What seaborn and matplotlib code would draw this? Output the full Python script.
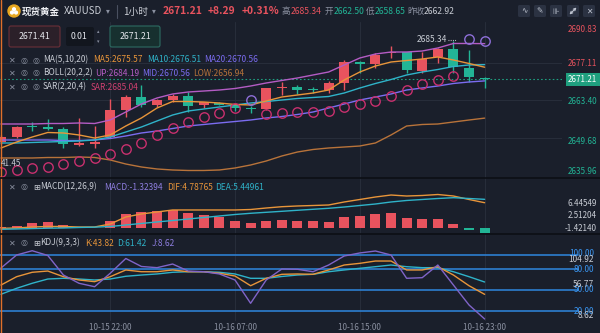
import matplotlib
matplotlib.use("Agg")
import matplotlib.pyplot as plt
import seaborn as sns
from matplotlib.patches import FancyBboxPatch, Circle

# ---------------- data ----------------
idx = list(range(32))
opens  = [2648.3, 2650.1, 2654.0, 2653.6, 2652.9, 2647.1, 2647.5, 2650.1, 2659.9, 2664.8,
          2661.7, 2663.6, 2665.0, 2661.7, 2662.6, 2661.7, 2660.6, 2660.2, 2667.8, 2668.5,
          2667.4, 2667.2, 2669.7, 2677.6, 2676.6, 2680.8, 2681.0, 2674.3, 2679.2, 2682.1,
          2675.2, 2671.8]
highs  = [2650.6, 2654.2, 2655.6, 2656.5, 2653.8, 2656.9, 2654.0, 2663.8, 2665.4, 2669.1,
          2664.0, 2665.8, 2666.6, 2663.0, 2662.9, 2662.0, 2661.2, 2668.0, 2670.3, 2669.1,
          2668.5, 2670.5, 2678.2, 2677.9, 2680.7, 2683.3, 2681.2, 2681.2, 2682.5, 2685.34,
          2681.9, 2672.1]
lows   = [2647.6, 2649.8, 2652.2, 2652.6, 2645.9, 2646.7, 2645.9, 2649.7, 2657.5, 2661.0,
          2660.9, 2663.0, 2659.3, 2660.6, 2661.6, 2659.5, 2658.7, 2659.8, 2665.4, 2665.8,
          2666.0, 2666.2, 2667.2, 2673.3, 2675.2, 2678.8, 2673.3, 2673.3, 2677.0, 2673.3,
          2670.3, 2667.8]
closes = [2650.1, 2653.8, 2653.6, 2652.9, 2647.5, 2648.0, 2648.3, 2659.9, 2664.8, 2661.7,
          2663.6, 2665.0, 2661.4, 2662.9, 2661.9, 2660.5, 2660.4, 2667.8, 2668.0, 2667.2,
          2667.1, 2669.7, 2677.6, 2676.7, 2680.0, 2681.2, 2674.5, 2678.5, 2682.1, 2675.7,
          2672.1, 2671.21]

ma5  = [2646.01, 2648.20, 2650.03, 2651.68, 2651.50, 2650.77, 2649.67, 2650.77, 2654.06, 2656.99,
        2660.64, 2663.02, 2663.02, 2662.84, 2662.47, 2661.93, 2661.74, 2663.21, 2664.67, 2665.40,
        2666.13, 2667.23, 2670.89, 2673.82, 2676.01, 2677.48, 2678.02, 2678.57, 2679.31, 2678.21,
        2676.93, 2675.57]
ma10 = [2647.84, 2647.84, 2648.02, 2648.20, 2648.39, 2648.57, 2648.94, 2650.03, 2651.86, 2653.69,
        2655.89, 2658.08, 2659.55, 2660.28, 2661.01, 2661.74, 2662.47, 2663.02, 2663.57, 2664.12,
        2664.49, 2664.85, 2666.13, 2667.96, 2669.61, 2671.07, 2672.72, 2673.82, 2674.73, 2675.83,
        2676.38, 2676.51]
boll_up  = [2654.79, 2654.79, 2654.79, 2654.97, 2654.97, 2655.16, 2654.97, 2656.25, 2659.18, 2662.11,
            2664.30, 2665.77, 2666.50, 2666.86, 2667.23, 2667.78, 2668.69, 2669.79, 2670.71, 2671.62,
            2672.72, 2673.82, 2676.38, 2678.94, 2680.40, 2681.13, 2681.13, 2681.50, 2682.60, 2684.25,
            2684.25, 2684.19]
boll_mid = [2648.94, 2648.94, 2648.94, 2648.94, 2648.75, 2648.75, 2648.94, 2649.48, 2650.40, 2651.50,
            2652.23, 2653.14, 2654.06, 2654.61, 2655.16, 2655.70, 2656.25, 2656.99, 2657.53, 2658.27,
            2659.18, 2660.64, 2662.11, 2663.57, 2664.67, 2665.77, 2667.23, 2667.96, 2668.69, 2669.61,
            2670.16, 2670.56]
boll_low = [2642.35, 2642.35, 2642.35, 2642.53, 2642.53, 2642.72, 2642.53, 2641.62, 2640.15, 2639.06,
            2638.33, 2637.96, 2637.78, 2637.78, 2637.96, 2638.69, 2639.79, 2641.25, 2643.08, 2644.54,
            2645.46, 2646.01, 2646.37, 2646.74, 2647.84, 2650.77, 2654.06, 2654.61, 2654.79, 2655.52,
            2656.25, 2656.94]
sar      = [2637.34, 2637.96, 2638.58, 2639.17, 2640.15, 2641.25, 2642.24, 2643.81, 2645.53, 2647.95,
            2650.77, 2653.44, 2655.63, 2657.46, 2658.92, 2660.53, 2663.39, 2658.27, 2658.71, 2659.00,
            2659.29, 2659.66, 2660.90, 2662.11, 2663.21, 2665.04, 2667.05, 2669.43, 2670.89, 2672.35,
            2686.07, 2685.04]
sar_above = [False]*16 + [True] + [False]*13 + [True, True]

macd = [0.20, 0.40, 1.00, 1.23, 0.63, 0.10, -0.15, 1.56, 3.19, 3.58,
        3.88, 4.12, 3.35, 2.95, 2.42, 1.56, 1.02, 1.56, 1.79, 1.63,
        1.45, 1.40, 2.42, 2.72, 3.12, 3.35, 2.25, 1.95, 1.95, 0.95,
        -0.53, -1.32394]
dif = [-0.14, -0.07, 0.16, 0.28, 0.28, 0.16, 0.16, 0.86, 2.49, 3.19,
       3.65, 4.12, 4.12, 4.12, 4.12, 4.12, 4.23, 4.58, 4.88, 5.05,
       5.16, 5.28, 5.98, 6.56, 7.14, 7.60, 7.37, 7.49, 7.72, 7.37,
       6.56, 5.81]
dea = [-0.37, -0.30, -0.21, -0.12, -0.07, 0.05, 0.12, 0.28, 0.63, 0.98,
       1.33, 1.67, 2.02, 2.37, 2.72, 3.07, 3.35, 3.58, 3.81, 4.05,
       4.28, 4.51, 4.81, 5.16, 5.51, 5.98, 6.33, 6.56, 6.79, 6.98,
       6.79, 6.60]

kdj_k = [57.1, 69.0, 75.3, 77.1, 69.0, 64.3, 61.9, 69.0, 78.6, 76.1,
         76.1, 78.6, 76.1, 76.1, 73.9, 70.0, 56.1, 66.7, 72.4, 72.9,
         72.4, 78.6, 85.7, 88.1, 91.4, 91.4, 78.6, 78.6, 83.3, 71.4,
         56.1, 43.82]
kdj_d = [43.9, 52.4, 59.6, 65.7, 66.7, 65.7, 64.3, 65.7, 69.6, 71.4,
         72.9, 75.3, 76.1, 76.1, 75.3, 72.9, 66.7, 66.7, 69.3, 71.4,
         72.4, 76.1, 78.6, 81.0, 83.3, 85.7, 83.3, 81.9, 81.9, 76.1,
         69.0, 61.42]
kdj_j = [81.4, 100.0, 106.1, 99.3, 71.4, 59.6, 54.7, 73.9, 95.0, 83.6,
         81.9, 87.1, 77.1, 76.1, 72.9, 64.3, 31.0, 64.3, 80.0, 79.6,
         76.1, 85.7, 98.6, 102.9, 105.7, 100.0, 66.7, 67.6, 85.7, 57.1,
         28.6, 8.62]

time_ticks = [7, 15, 23, 31]
time_labels = ["10-15 22:00", "10-16 07:00", "10-16 15:00", "10-16 23:00"]
price_ticks = [2690.83, 2677.11, 2663.40, 2649.68, 2635.96]
last_price = 2671.21
macd_labels = ["6.44549", "2.51204", "-1.42140"]
kdj_levels = [100, 80, 50, 20]
kdj_range_labels = ["104.92", "56.77", "8.62"]

# ---------------- style ----------------
BG = "#1a1f2b"
RED = "#e8535e"
GREEN = "#22b596"
C_MA5 = "#e8953a"
C_MA10 = "#2fb3c9"
C_MID = "#7b6cf0"
C_UP = "#b45cc4"
C_LOW = "#b8733a"
C_SAR_B = "#c8306e"
C_SAR_A = "#8e6fd8"
C_J = "#8064c8"
GRID = "#272d3a"
TXT = "#c8ccd4"
DIM = "#8a90a0"
BLUE = "#2d7fd0"
BLUE_T = "#3a95f0"

sns.set_style("dark", rc={"axes.facecolor": BG, "figure.facecolor": BG})
plt.rcParams["font.family"] = ["Noto Sans CJK SC", "DejaVu Sans"]

W, H = 600, 333
fig = plt.figure(figsize=(6, 3.33), dpi=100, facecolor=BG)


def rect(x0, y0, x1, y1):
    return [x0 / W, 1 - y1 / H, (x1 - x0) / W, (y1 - y0) / H]


ax_m = fig.add_axes(rect(0, 22, 562, 178))
ax_d = fig.add_axes(rect(0, 178, 562, 234))
ax_k = fig.add_axes(rect(0, 234, 562, 321))
XL = (-0.064, 35.96)
for ax in (ax_m, ax_d, ax_k):
    ax.set_facecolor("none")
    ax.set_xlim(*XL)
    for s in ax.spines.values():
        s.set_visible(False)
    ax.set_yticks([])
    ax.grid(False)
    for t in time_ticks:
        ax.axvline(t, color=GRID, lw=0.8, zorder=0)

# ---------------- main panel ----------------
ax_m.set_ylim(2635.03, 2692.11)
for p in price_ticks[1:4]:
    ax_m.axhline(p, color=GRID, lw=0.8, zorder=0)
ax_m.axhline(last_price, color="#1f9e80", lw=0.8, ls=(0, (1.5, 2)), zorder=1)

cols = [RED if c >= o else GREEN for o, c in zip(opens, closes)]
bottoms = [min(o, c) for o, c in zip(opens, closes)]
heights = [max(abs(c - o), 0.35) for o, c in zip(opens, closes)]
ax_m.vlines(idx, lows, highs, colors=cols, lw=1.0, zorder=2)
ax_m.bar(idx, heights, bottom=bottoms, width=0.64, color=cols, lw=0, zorder=2)

for vals, c in [(boll_low, C_LOW), (boll_up, C_UP), (boll_mid, C_MID), (ma10, C_MA10), (ma5, C_MA5)]:
    sns.lineplot(x=idx, y=vals, ax=ax_m, color=c, lw=1.0, zorder=3)

xb = [i for i, a in zip(idx, sar_above) if not a]
yb = [v for v, a in zip(sar, sar_above) if not a]
xa = [i for i, a in zip(idx, sar_above) if a]
ya = [v for v, a in zip(sar, sar_above) if a]
ax_m.plot(xb, yb, ls="", marker="o", ms=6.8, mfc="none", mec=C_SAR_B, mew=1.0, zorder=4)
ax_m.plot(xa, ya, ls="", marker="o", ms=6.8, mfc="none", mec=C_SAR_A, mew=1.0, zorder=4)
ax_m.set_xticks([])
ax_m.set_xlabel("")
ax_m.set_ylabel("")

# ---------------- MACD panel ----------------
ax_d.set_ylim(-1.47, 11.56)
mcols = [RED if v >= 0 else GREEN for v in macd]
ax_d.bar(idx, macd, width=0.64, color=mcols, lw=0, zorder=2)
sns.lineplot(x=idx, y=dif, ax=ax_d, color=C_MA5, lw=1.0, zorder=3)
sns.lineplot(x=idx, y=dea, ax=ax_d, color=C_MA10, lw=1.0, zorder=3)
ax_d.set_xticks([])
ax_d.set_xlabel("")
ax_d.set_ylabel("")

# ---------------- KDJ panel ----------------
ax_k.set_ylim(5.71, 130)
for lv in kdj_levels:
    ax_k.axhline(lv, xmin=0, xmax=578 / 562, color=BLUE, lw=1.2, zorder=1, clip_on=False)
sns.lineplot(x=idx, y=kdj_d, ax=ax_k, color=C_MA10, lw=1.0, zorder=3)
sns.lineplot(x=idx, y=kdj_k, ax=ax_k, color=C_MA5, lw=1.0, zorder=3)
sns.lineplot(x=idx, y=kdj_j, ax=ax_k, color=C_J, lw=1.0, zorder=3)
ax_k.set_xticks(time_ticks)
ax_k.set_xticklabels(time_labels, fontsize=5.8, color=DIM)
ax_k.tick_params(axis="x", length=0, pad=1.5)
ax_k.set_xlabel("")
ax_k.set_ylabel("")

# ---------------- overlay (texts, decorations) ----------------
ov = fig.add_axes([0, 0, 1, 1])
ov.set_xlim(0, W)
ov.set_ylim(H, 0)
ov.axis("off")
ov.patch.set_alpha(0)


def T(x, y, s, c=TXT, fs=6.0, ha="left", w="normal", **kw):
    ov.text(x, y, s, color=c, fontsize=fs, ha=ha, va="center", fontweight=w, **kw)


# left orange border and panel separators
ov.plot([0.6, 0.6], [0, H], color="#e0702a", lw=1.0)
ov.plot([0, W], [178, 178], color="#0c0f15", lw=1.2)
ov.plot([0, W], [234, 234], color="#0c0f15", lw=1.2)

# header row
ov.add_patch(Circle((14, 11), 6, color="#e8a820"))
for dx, dy in [(-2, 1.5), (2, 1.5), (0, -1.8)]:
    ov.add_patch(Circle((14 + dx, 11 + dy), 1.4, color="white"))
T(22, 11.5, "现货黄金", c="#eef0f4", fs=6.8, w="bold")
T(64, 11.5, "XAUUSD", c=TXT, fs=7.0)
T(106, 11.5, "▾", c=DIM, fs=5.5)
ov.plot([117, 117], [5, 18], color="#4a5060", lw=0.8)
T(123, 11.5, "1小时", c=TXT, fs=7.0)
T(152, 11.5, "▾", c=DIM, fs=5.5)
T(163, 11.5, "2671.21", c=RED, fs=7.4, w="bold")
T(208, 11.5, "+8.29", c=RED, fs=7.4, w="bold")
T(242, 11.5, "+0.31%", c=RED, fs=7.4, w="bold")
T(281, 11.5, "高", c=DIM, fs=6.2)
T(291, 11.5, "2685.34", c=RED, fs=6.2)
T(325, 11.5, "开", c=DIM, fs=6.2)
T(334, 11.5, "2662.50", c=GREEN, fs=6.2)
T(366, 11.5, "低", c=DIM, fs=6.2)
T(375, 11.5, "2658.65", c=GREEN, fs=6.2)
T(407, 11.5, "昨收", c=DIM, fs=6.2)
T(424, 11.5, "2662.92", c=TXT, fs=6.2)
btn_x = [518, 534, 550, 567, 583]
btn_g = ["∿", "✎", "⊪", None, "✕"]
for bx, g in zip(btn_x, btn_g):
    ov.add_patch(FancyBboxPatch((bx, 5), 12, 12, boxstyle="round,pad=0,rounding_size=1.5",
                                fc="#2b3242", ec="none"))
    if g is not None:
        T(bx + 6, 11, g, c="#c0c6d2", fs=5.5, ha="center", family=["DejaVu Sans"])
    else:
        # expand icon (diagonal double arrow) drawn as a shape
        ov.annotate("", xy=(bx + 9.5, 7.5), xytext=(bx + 2.5, 14.5),
                    arrowprops=dict(arrowstyle="<->", color="#c0c6d2", lw=0.8,
                                    mutation_scale=4, shrinkA=0, shrinkB=0))

# order boxes
ov.add_patch(FancyBboxPatch((9, 26), 51, 21, boxstyle="round,pad=0,rounding_size=2",
                            fc="#2b2029", ec="#6a3038", lw=0.8))
T(34.5, 36.5, "2671.41", c="#e6e8ee", fs=6.3, ha="center")
ov.add_patch(FancyBboxPatch((66, 27), 28, 19, boxstyle="round,pad=0,rounding_size=2",
                            fc="#12161e", ec="none"))
T(79, 36.5, "0.01", c="#e6e8ee", fs=6.3, ha="center")
T(98.5, 31.5, "▴", c=DIM, fs=3.5, ha="center", family=["DejaVu Sans"])
T(98.5, 41.5, "▾", c=DIM, fs=3.5, ha="center", family=["DejaVu Sans"])
ov.add_patch(FancyBboxPatch((110, 26), 50, 21, boxstyle="round,pad=0,rounding_size=2",
                            fc="#17302f", ec="#2d6b62", lw=0.8))
T(135, 36.5, "2671.21", c="#e6e8ee", fs=6.3, ha="center")


# indicator legends
def ind_row(y, name, items, box=False):
    T(9, y, "✕", c=DIM, fs=5.8, family=["DejaVu Sans"])
    T(20.5, y, "◎", c=DIM, fs=5.8, family=["DejaVu Sans"])
    if box:
        T(33, y, "⊞", c=TXT, fs=6.0, family=["DejaVu Sans"])
        T(40, y, name, c=TXT, fs=6.0)
    else:
        T(32.5, y, "◎", c=DIM, fs=5.8, family=["DejaVu Sans"])
        T(43, y, name, c=TXT, fs=6.0)
    for x, s, c in items:
        T(x, y, s, c=c, fs=6.0)


ind_row(60, "MA(5,10,20)", [(93, "MA5:2675.57", C_MA5), (147, "MA10:2676.51", C_MA10),
                             (204, "MA20:2670.56", C_MID)])
ind_row(73, "BOLL(20,2,2)", [(95, "UP:2684.19", C_UP), (142, "MID:2670.56", C_MID),
                              (193, "LOW:2656.94", C_LOW)])
ind_row(87, "SAR(2,20,4)", [(91, "SAR:2685.04", "#d04070")])
ind_row(187, "MACD(12,26,9)", [(104, "MACD:-1.32394", "#8e7ee0"), (167, "DIF:4.78765", C_MA5),
                                (215, "DEA:5.44961", C_MA10)], box=True)
ind_row(243, "KDJ(9,3,3)", [(85, "K:43.82", C_MA5), (117, "D:61.42", C_MA10),
                             (152, "J:8.62", "#8e7ee0")], box=True)

# main price labels
for p, y in zip(price_ticks, [30, 63.5, 102, 141.5, 171]):
    T(597, y, f"{p:.2f}", c=RED if p > last_price else GREEN, fs=5.8, ha="right")
ov.add_patch(FancyBboxPatch((566, 72.5), 34, 13, boxstyle="square,pad=0", fc="#1fa07f", ec="none"))
T(597, 79, f"{last_price:.2f}", c="white", fs=5.8, ha="right")
T(417, 40, "2685.34", c=TXT, fs=6.0)
ov.plot([448, 456], [40, 40], color=TXT, lw=0.8, ls=(0, (0.8, 1.2)))
T(1, 164, "41.45", c=TXT, fs=5.8)

# MACD labels
for s, y in zip(macd_labels, [203.3, 216, 228.3]):
    T(597, y, s, c=TXT, fs=5.8, ha="right")

# KDJ labels (overlapping pairs as in the source chart)
for lv, y in zip(kdj_levels, [254, 269, 289.5, 311]):
    T(594, y, f"{lv:.2f}", c=BLUE_T, fs=6.0, ha="right")
for s, y in zip(kdj_range_labels, [259, 284.7, 315]):
    T(594, y, s, c=TXT, fs=6.0, ha="right")

fig.savefig("out.png", dpi=100, facecolor=BG)
